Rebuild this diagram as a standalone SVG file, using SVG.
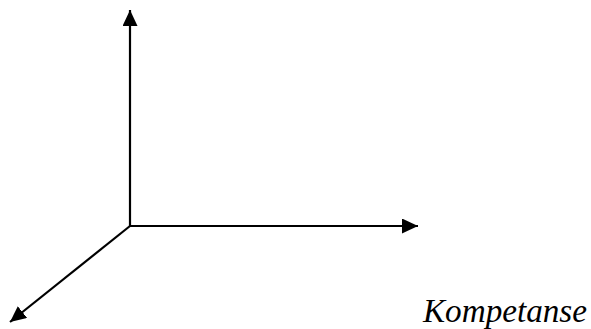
<svg xmlns="http://www.w3.org/2000/svg" width="591" height="329" viewBox="0 0 591 329">
<style>
.ax{stroke:#000;stroke-width:2.2;fill:none}
.lbl{font-family:"Liberation Serif","Times New Roman",serif;font-style:italic;font-size:33px;fill:#000}
</style>
<defs>
<marker id="ah" viewBox="0 0 16 15" refX="16" refY="7.5" markerWidth="16" markerHeight="15" markerUnits="userSpaceOnUse" orient="auto">
<path d="M0,0 L16,7.5 L0,15 Z" fill="#000"/>
</marker>
</defs>
<rect width="591" height="329" fill="#fff"/>
<g id="connectors">
<line class="ax" x1="130" y1="226" x2="130" y2="10" marker-end="url(#ah)"/>
<line class="ax" x1="130" y1="226" x2="418" y2="226" marker-end="url(#ah)"/>
<line class="ax" x1="130" y1="226" x2="10" y2="322" marker-end="url(#ah)"/>
</g>
<g id="label">
<text class="lbl" x="423" y="322" textLength="164" lengthAdjust="spacingAndGlyphs">Kompetanse</text>
</g>
</svg>
